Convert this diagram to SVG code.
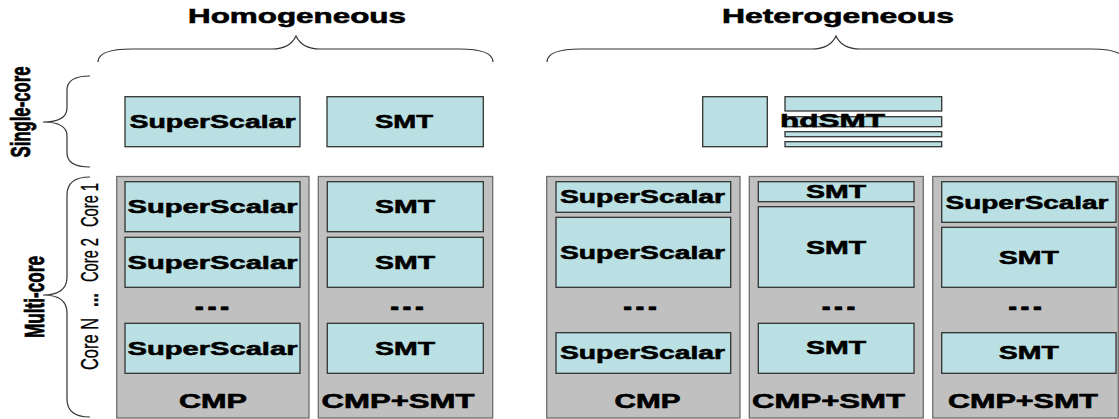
<svg xmlns="http://www.w3.org/2000/svg" width="1119" height="419" viewBox="0 0 1119 419">
  <style>
    .outer { fill: #c0c0c0; stroke: #6e6e6e; stroke-width: 1.3; }
    .core { fill: #bbe0e3; stroke: #333333; stroke-width: 1.3; }
    .brace { fill: none; stroke: #333333; stroke-width: 1.2; }
    text { font-family: "Liberation Sans", Arial, sans-serif; fill: #000000; text-anchor: middle; }
    .lbl { font-weight: bold; font-size: 18px; stroke: #000000; stroke-width: 0.55; }
    .chip { font-weight: bold; font-size: 19.5px; stroke: #000000; stroke-width: 0.6; }
    .dots { font-weight: bold; font-size: 22px; stroke: #000000; stroke-width: 0.6; }
    .head { font-weight: bold; font-size: 19.5px; stroke: #000000; stroke-width: 0.55; }
    .side { font-weight: bold; font-size: 27px; stroke: #000000; stroke-width: 0.8; }
    .coreno { font-size: 23px; stroke: #000000; stroke-width: 0.35; }
  </style>

  <!-- column headings -->
  <g id="heading-homogeneous">
    <text class="head" x="297" y="23" textLength="218" lengthAdjust="spacingAndGlyphs">Homogeneous</text>
  </g>
  <g id="heading-heterogeneous">
    <text class="head" x="838" y="23" textLength="232" lengthAdjust="spacingAndGlyphs">Heterogeneous</text>
  </g>

  <!-- row headings -->
  <g id="row-single-core">
    <text class="side" transform="translate(30,112) rotate(-90)" textLength="91" lengthAdjust="spacingAndGlyphs">Single-core</text>
  </g>
  <g id="row-multi-core">
    <text class="side" transform="translate(44,297) rotate(-90)" textLength="82" lengthAdjust="spacingAndGlyphs">Multi-core</text>
  </g>
  <g id="core-numbers">
    <text class="coreno" transform="translate(98,205) rotate(-90)" textLength="44" lengthAdjust="spacingAndGlyphs">Core 1</text>
    <text class="coreno" transform="translate(98,260) rotate(-90)" textLength="44" lengthAdjust="spacingAndGlyphs">Core 2</text>
    <text class="coreno" font-weight="bold" transform="translate(98,300) rotate(-90)" textLength="14" lengthAdjust="spacingAndGlyphs">...</text>
    <text class="coreno" transform="translate(98,344) rotate(-90)" textLength="52" lengthAdjust="spacingAndGlyphs">Core N</text>
  </g>

  <!-- braces grouping rows and columns -->
  <g id="connectors">
    <path class="brace" d="M98,62 Q98,49 132,49 L272,49 Q290,49 296,36 Q302,49 320,49 L459,49 Q493,49 493,62"/>
    <path class="brace" d="M547,62 Q547,49 581,49 L812,49 Q830,49 836,36 Q842,49 860,49 L1091,49 Q1125,49 1125,62"/>
    <path class="brace" d="M90,76 Q67,76 67,90 L67,108 Q67,122 43,122 Q67,122 67,136 L67,153 Q67,167 90,167"/>
    <path class="brace" d="M90,177 Q67,177 67,195 L67,277 Q67,295 43,295 Q67,295 67,313 L67,399 Q67,417 90,417"/>
  </g>

  <!-- single-core designs -->
  <g id="single-superscalar">
    <rect class="core" x="125" y="96.7" width="175" height="50"/>
    <text class="lbl" x="212.5" y="128" textLength="166" lengthAdjust="spacingAndGlyphs">SuperScalar</text>
  </g>
  <g id="single-smt">
    <rect class="core" x="327" y="96.7" width="156.3" height="50"/>
    <text class="lbl" x="404" y="128" textLength="58" lengthAdjust="spacingAndGlyphs">SMT</text>
  </g>
  <g id="single-hdsmt">
    <rect class="core" x="702.7" y="96.7" width="64.6" height="50"/>
    <rect class="core" x="785" y="96.7" width="156.7" height="14.3"/>
    <rect class="core" x="785" y="116.7" width="156.7" height="10"/>
    <rect class="core" x="785" y="131.7" width="156.7" height="5"/>
    <rect class="core" x="785" y="141.7" width="156.7" height="5"/>
    <text class="lbl" x="832.5" y="126.7" textLength="105" lengthAdjust="spacingAndGlyphs">hdSMT</text>
  </g>

  <!-- homogeneous chip multiprocessor -->
  <g id="homo-cmp">
    <rect class="outer" x="116.7" y="176.5" width="192.3" height="241.5"/>
    <rect class="core" x="125" y="181.7" width="175" height="50"/>
    <rect class="core" x="125" y="237.3" width="175" height="50"/>
    <rect class="core" x="125" y="323.3" width="175" height="50"/>
    <text class="lbl" x="212.5" y="213" textLength="170" lengthAdjust="spacingAndGlyphs">SuperScalar</text>
    <text class="lbl" x="212.5" y="268.6" textLength="170" lengthAdjust="spacingAndGlyphs">SuperScalar</text>
    <text class="dots" x="212" y="309.5" textLength="38" lengthAdjust="spacingAndGlyphs">...</text>
    <text class="lbl" x="212.5" y="354.6" textLength="170" lengthAdjust="spacingAndGlyphs">SuperScalar</text>
    <text class="chip" x="213" y="408" textLength="68" lengthAdjust="spacingAndGlyphs">CMP</text>
  </g>

  <!-- homogeneous chip multiprocessor of SMT cores -->
  <g id="homo-cmp-smt">
    <rect class="outer" x="318.3" y="176.5" width="174.4" height="241.5"/>
    <rect class="core" x="327.3" y="181.7" width="156" height="50"/>
    <rect class="core" x="327.3" y="237.3" width="156" height="50"/>
    <rect class="core" x="327.3" y="323.3" width="156" height="50"/>
    <text class="lbl" x="405" y="213" textLength="60" lengthAdjust="spacingAndGlyphs">SMT</text>
    <text class="lbl" x="405" y="268.6" textLength="60" lengthAdjust="spacingAndGlyphs">SMT</text>
    <text class="dots" x="407" y="309.5" textLength="37" lengthAdjust="spacingAndGlyphs">...</text>
    <text class="lbl" x="405" y="354.6" textLength="60" lengthAdjust="spacingAndGlyphs">SMT</text>
    <text class="chip" x="398" y="408" textLength="153" lengthAdjust="spacingAndGlyphs">CMP+SMT</text>
  </g>

  <!-- heterogeneous chip multiprocessor -->
  <g id="hetero-cmp">
    <rect class="outer" x="546.7" y="176.5" width="193.3" height="241.5"/>
    <rect class="core" x="556" y="181.7" width="174.7" height="30.6"/>
    <rect class="core" x="556" y="217.3" width="174.7" height="70"/>
    <rect class="core" x="556" y="332.7" width="174.7" height="40.6"/>
    <text class="lbl" x="642.5" y="203.3" textLength="165" lengthAdjust="spacingAndGlyphs">SuperScalar</text>
    <text class="lbl" x="642.5" y="259.2" textLength="165" lengthAdjust="spacingAndGlyphs">SuperScalar</text>
    <text class="dots" x="640" y="309.5" textLength="37" lengthAdjust="spacingAndGlyphs">...</text>
    <text class="lbl" x="642.5" y="359.3" textLength="165" lengthAdjust="spacingAndGlyphs">SuperScalar</text>
    <text class="chip" x="647.5" y="408" textLength="66" lengthAdjust="spacingAndGlyphs">CMP</text>
  </g>

  <!-- heterogeneous chip multiprocessor of SMT cores -->
  <g id="hetero-cmp-smt">
    <rect class="outer" x="749.3" y="176.5" width="174" height="241.5"/>
    <rect class="core" x="758.3" y="181.7" width="155.7" height="20"/>
    <rect class="core" x="758.3" y="206.7" width="155.7" height="80.6"/>
    <rect class="core" x="758.3" y="323.3" width="155.7" height="50"/>
    <text class="lbl" x="836" y="197.5" textLength="60" lengthAdjust="spacingAndGlyphs">SMT</text>
    <text class="lbl" x="836" y="254" textLength="60" lengthAdjust="spacingAndGlyphs">SMT</text>
    <text class="dots" x="838.5" y="309.5" textLength="37" lengthAdjust="spacingAndGlyphs">...</text>
    <text class="lbl" x="836" y="354.3" textLength="60" lengthAdjust="spacingAndGlyphs">SMT</text>
    <text class="chip" x="828.5" y="408" textLength="153" lengthAdjust="spacingAndGlyphs">CMP+SMT</text>
  </g>

  <!-- heterogeneous chip mixing superscalar and SMT cores -->
  <g id="hetero-mixed">
    <rect class="outer" x="932.7" y="176.5" width="185.6" height="241.5"/>
    <rect class="core" x="941.7" y="181.7" width="174.3" height="40.6"/>
    <rect class="core" x="941.7" y="227.3" width="174.3" height="60"/>
    <rect class="core" x="941.7" y="332.7" width="174.3" height="40.6"/>
    <text class="lbl" x="1027" y="209.3" textLength="163" lengthAdjust="spacingAndGlyphs">SuperScalar</text>
    <text class="lbl" x="1028.8" y="264" textLength="60" lengthAdjust="spacingAndGlyphs">SMT</text>
    <text class="dots" x="1025" y="309.5" textLength="37" lengthAdjust="spacingAndGlyphs">...</text>
    <text class="lbl" x="1028.8" y="359.3" textLength="60" lengthAdjust="spacingAndGlyphs">SMT</text>
    <text class="chip" x="1023" y="408" textLength="150" lengthAdjust="spacingAndGlyphs">CMP+SMT</text>
  </g>
</svg>
